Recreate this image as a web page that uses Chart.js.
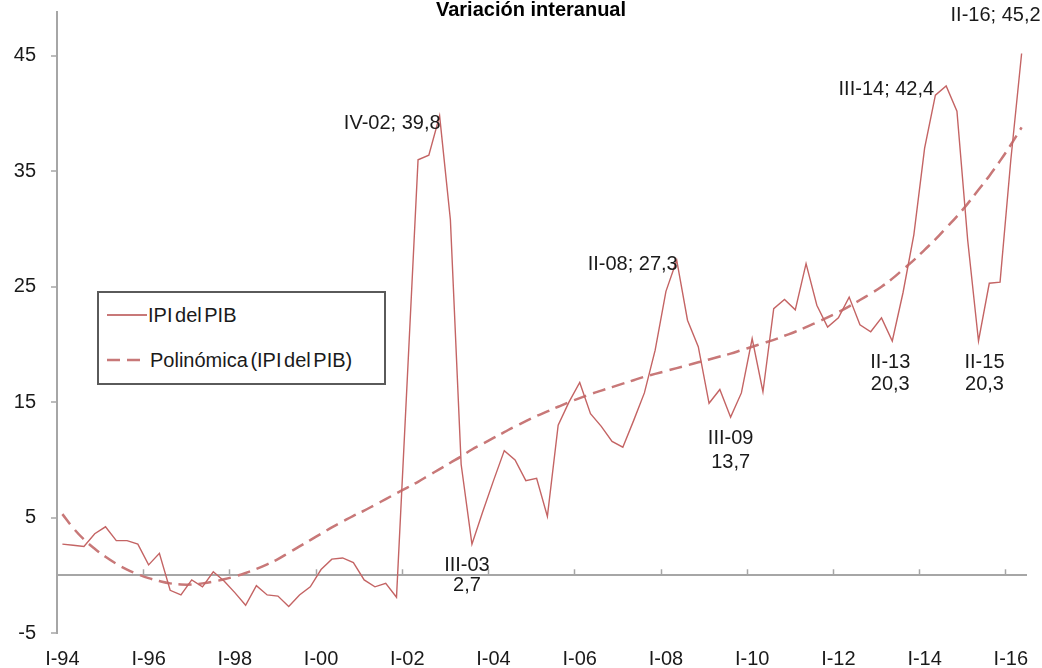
<!DOCTYPE html>
<html>
<head>
<meta charset="utf-8">
<script src="https://cdn.jsdelivr.net/npm/chart.js@4.4.1/dist/chart.umd.min.js"></script>
<style>
  html, body { margin: 0; padding: 0; background: #fff; overflow: hidden; }
  #wrap { position: relative; width: 1042px; height: 668px; }
  #leyenda {
    position: absolute; left: 97px; top: 291px; width: 289px; height: 94px;
    box-sizing: border-box; border: 2px solid #5a5a5a; background: #fff;
    font: 20px "Liberation Sans", Arial, sans-serif; color: #1a1a1a; word-spacing: -3px;
  }
  #leyenda .fila { position: absolute; left: 8px; height: 24px; display: flex; align-items: center; }
  #leyenda svg { margin-right: 1px; }
</style>
</head>
<body>
<div id="wrap">
  <canvas id="grafico" width="1042" height="668"></canvas>
  <div id="leyenda">
    <div class="fila" style="top: 10px;">
      <svg width="40" height="4"><line x1="0" y1="2" x2="40" y2="2" stroke="rgb(200,120,120)" stroke-width="2"/></svg>
      <span>IPI del PIB</span>
    </div>
    <div class="fila" style="top: 55px;">
      <svg width="42" height="4"><line x1="0" y1="2" x2="40" y2="2" stroke="rgb(200,120,120)" stroke-width="2.5" stroke-dasharray="13 7"/></svg>
      <span>Polinómica (IPI del PIB)</span>
    </div>
  </div>
</div>
<script>
// Datos: IPI del PIB, variación interanual trimestral (I-94 a II-16)
const anios = ['94', '95', '96', '97', '98', '99', '00', '01', '02', '03', '04', '05',
               '06', '07', '08', '09', '10', '11', '12', '13', '14', '15', '16'];
const trimestres = ['I', 'II', 'III', 'IV'];

const ipiPib = [
   2.7,  2.6,  2.5,  3.6,  4.2,  3.0,  3.0,  2.7,  0.9,  1.9,
  -1.3, -1.7, -0.4, -1.0,  0.3, -0.5, -1.5, -2.6, -0.9, -1.7,
  -1.8, -2.7, -1.7, -1.0,  0.5,  1.4,  1.5,  1.1, -0.4, -1.0,
  -0.7, -1.9, 17.0, 36.0, 36.4, 39.8, 30.8,  9.6,  2.7,  5.5,
   8.2, 10.8, 10.0,  8.2,  8.4,  5.1, 13.0, 15.0, 16.7, 14.0,
  12.9, 11.6, 11.1, 13.4, 15.8, 19.5, 24.6, 27.3, 22.1, 19.8,
  14.9, 16.1, 13.7, 15.8, 20.5, 15.9, 23.1, 23.9, 23.0, 27.0,
  23.4, 21.5, 22.3, 24.1, 21.7, 21.1, 22.3, 20.3, 24.5, 29.5,
  37.0, 41.6, 42.4, 40.2, 29.0, 20.3, 25.3, 25.4, 36.0, 45.2
];

// Línea de tendencia polinómica
const tendencia = [
   5.3,  4.1,  3.1,  2.3,  1.6,  1.0,  0.5,  0.1, -0.25, -0.5,
  -0.7, -0.8, -0.8, -0.7, -0.55, -0.35, -0.1, 0.2,  0.55,  0.95,
   1.4,  1.95, 2.5,  3.05, 3.6,  4.15, 4.65, 5.15, 5.6,  6.1,
   6.6,  7.1,  7.6,  8.1,  8.65, 9.2,  9.75, 10.3, 10.9, 11.4,
  11.9, 12.4, 12.9, 13.35, 13.8, 14.2, 14.6, 15.0, 15.35, 15.7,
  16.0, 16.3, 16.6, 16.9, 17.2, 17.45, 17.7, 17.95, 18.2, 18.45,
  18.7, 18.95, 19.2, 19.5, 19.8, 20.1, 20.4, 20.75, 21.1, 21.5,
  21.9, 22.35, 22.8, 23.3, 23.85, 24.4, 25.0, 25.7, 26.5, 27.3,
  28.2, 29.1, 30.1, 31.1, 32.2, 33.4, 34.6, 35.9, 37.3, 38.8
];

const ticksY = [-5, 5, 15, 25, 35, 45];

// Trimestres con etiqueta de dato
const marcados = [35, 38, 57, 62, 77, 82, 85, 89];

// Etiquetas de categoría: I-94, II-94, ...
const etiquetas = [];
anios.forEach(a => trimestres.forEach(t => etiquetas.push(t + '-' + a)));
etiquetas.length = ipiPib.length;

const titulo = 'Variación interanual';

const FUENTE = '"Liberation Sans", Arial, sans-serif';
const GRIS = '#a6a6a6';
const TEXTO = '#1a1a1a';

Chart.defaults.font.family = FUENTE;
Chart.defaults.color = TEXTO;

// Título recortado arriba, como en la imagen original
const tituloRecortado = {
  id: 'tituloRecortado',
  afterDraw(chart) {
    const { ctx } = chart;
    ctx.save();
    ctx.font = 'bold 20px ' + FUENTE;
    ctx.fillStyle = '#000';
    ctx.textAlign = 'center';
    ctx.textBaseline = 'alphabetic';
    ctx.fillText(titulo, 531, 16);
    ctx.restore();
  }
};

// Marcas del eje de categorías sobre la línea del cero
const marcasCero = {
  id: 'marcasCero',
  beforeDatasetsDraw(chart) {
    const { ctx, scales: { x, y } } = chart;
    const y0 = y.getPixelForValue(0);
    ctx.save();
    ctx.strokeStyle = GRIS;
    ctx.lineWidth = 1.5;
    for (let i = 8; i < etiquetas.length; i += 8) {
      const px = Math.round((x.getPixelForValue(i - 1) + x.getPixelForValue(i)) / 2) + 0.5;
      ctx.beginPath();
      ctx.moveTo(px, y0);
      ctx.lineTo(px, y0 - 6);
      ctx.stroke();
    }
    ctx.restore();
  }
};

// Colocación de las etiquetas de datos
const colocacion = {
  35: { tipo: 'izq', dx: 1, dy: 8 },
  57: { tipo: 'izq', dx: 1, dy: 4 },
  82: { tipo: 'izq', dx: -12, dy: 4 },
  89: { tipo: 'izq', dx: 19, dy: -38 },
  38: { tipo: 'abajo', dx: -5, dy: 21, salto: 20 },
  62: { tipo: 'abajo', dx: 0, dy: 21, salto: 24 },
  77: { tipo: 'abajo', dx: -2, dy: 22, salto: 22 },
  85: { tipo: 'abajo', dx: 6, dy: 22, salto: 22 }
};

const fmt = v => v.toFixed(1).replace('.', ',');

const etiquetasDatos = {
  id: 'etiquetasDatos',
  afterDatasetsDraw(chart) {
    const { ctx } = chart;
    const meta = chart.getDatasetMeta(0);
    ctx.save();
    ctx.font = '20px ' + FUENTE;
    ctx.fillStyle = TEXTO;
    ctx.textBaseline = 'middle';
    marcados.forEach(i => {
      const p = meta.data[i];
      const c = colocacion[i];
      if (c.tipo === 'izq') {
        ctx.textAlign = 'right';
        ctx.fillText(etiquetas[i] + '; ' + fmt(ipiPib[i]), p.x + c.dx, p.y + c.dy);
      } else {
        ctx.textAlign = 'center';
        ctx.fillText(etiquetas[i], p.x + c.dx, p.y + c.dy);
        ctx.fillText(fmt(ipiPib[i]), p.x + c.dx, p.y + c.dy + c.salto);
      }
    });
    ctx.restore();
  }
};

new Chart(document.getElementById('grafico'), {
  type: 'line',
  data: {
    labels: etiquetas,
    datasets: [
      {
        label: 'IPI del PIB',
        data: ipiPib,
        borderColor: 'rgb(196,100,100)',
        borderWidth: 1.4,
        pointRadius: 0,
        tension: 0
      },
      {
        label: 'Polinómica (IPI del PIB)',
        data: tendencia,
        borderColor: 'rgb(200,120,120)',
        borderWidth: 2.5,
        borderDash: [13, 7],
        pointRadius: 0,
        tension: 0.4
      }
    ]
  },
  options: {
    responsive: false,
    animation: false,
    devicePixelRatio: 1,
    layout: { padding: { left: 0, right: 15, top: 12, bottom: 0 } },
    plugins: {
      legend: { display: false },
      tooltip: { enabled: false },
      title: { display: false }
    },
    scales: {
      x: {
        offset: true,
        grid: { display: false, drawTicks: false, offset: true },
        border: { display: false },
        ticks: {
          autoSkip: false,
          maxRotation: 0,
          padding: 14,
          font: { size: 20 },
          callback(v, i) { return i % 8 === 0 ? this.getLabelForValue(v) : null; }
        },
        afterFit(s) { s.height = 35; s.paddingLeft = 0; s.paddingRight = 0; }
      },
      y: {
        min: -5,
        max: 48.8,
        afterBuildTicks(s) {
          s.ticks = ticksY.concat([0]).sort((a, b) => a - b).map(v => ({ value: v }));
        },
        ticks: {
          padding: 15,
          font: { size: 20 },
          callback: v => (v === 0 ? '' : v)
        },
        grid: {
          drawOnChartArea: true,
          lineWidth: 2,
          color: c => (c.tick && c.tick.value === 0 ? GRIS : 'rgba(0,0,0,0)'),
          tickLength: 6,
          tickWidth: 1.5,
          tickColor: c => (c.tick && c.tick.value === 0 ? 'rgba(0,0,0,0)' : GRIS)
        },
        border: { color: GRIS, width: 2 },
        afterFit(s) { s.width = 57; s.paddingTop = 0; s.paddingBottom = 0; }
      }
    }
  },
  plugins: [tituloRecortado, marcasCero, etiquetasDatos]
});
</script>
</body>
</html>
